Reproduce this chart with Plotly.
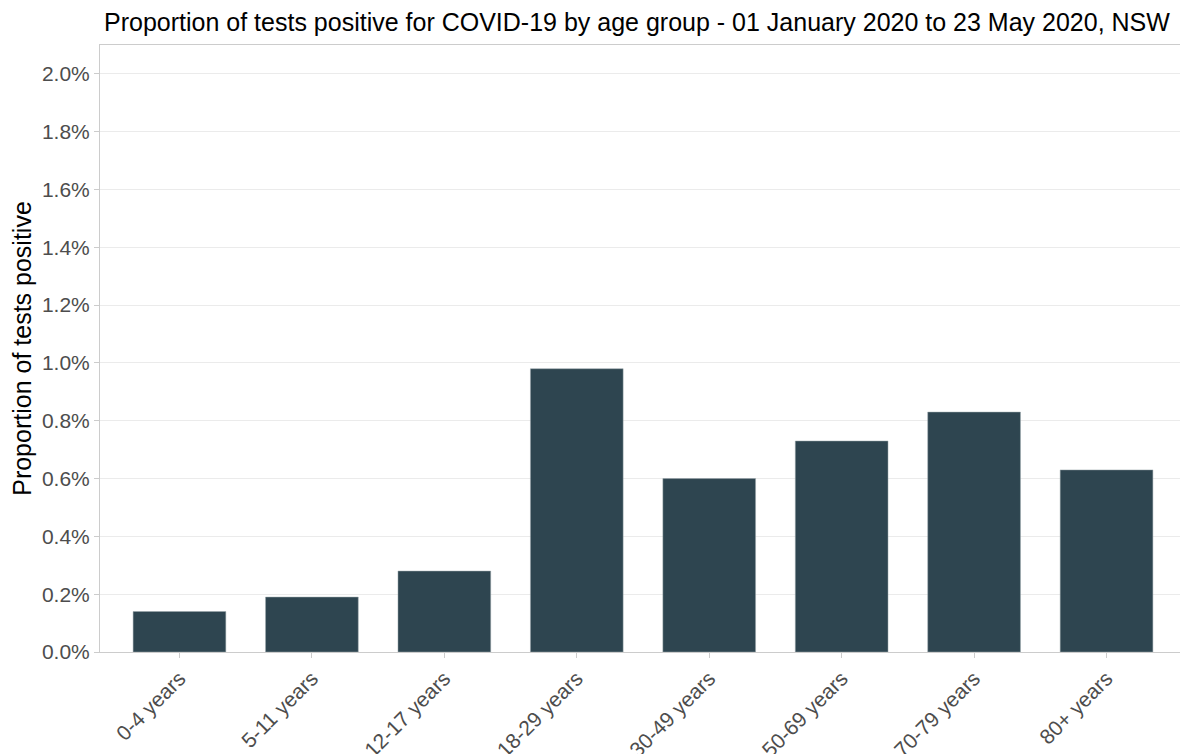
import plotly.graph_objects as go

age_groups = ["0-4 years", "5-11 years", "12-17 years", "18-29 years",
              "30-49 years", "50-69 years", "70-79 years", "80+ years"]
pct_positive = [0.14, 0.19, 0.28, 0.98, 0.60, 0.73, 0.83, 0.63]
y_ticks = [0.0, 0.2, 0.4, 0.6, 0.8, 1.0, 1.2, 1.4, 1.6, 1.8, 2.0]

fig = go.Figure(go.Bar(
    x=age_groups,
    y=pct_positive,
    width=0.7,
    marker=dict(color="#2e4550", line=dict(color="#9aa6ab", width=0.5)),
))

# page body has an 8px margin, so the figure is 8px smaller than the window
fig.update_layout(
    title=dict(
        text="Proportion of tests positive for COVID-19 by age group - 01 January 2020 to 23 May 2020, NSW",
        x=0.533, xanchor="center", y=0.981, yanchor="middle",
        font=dict(size=25, color="#000000"),
    ),
    font=dict(family="Liberation Sans, Arial, sans-serif"),
    plot_bgcolor="white",
    paper_bgcolor="white",
    width=1180, height=746,
    margin=dict(l=92, r=2, t=37, b=102),
    showlegend=False,
)

fig.update_xaxes(
    range=[-0.6, 7.6],
    tickangle=-45,
    ticks="outside", ticklen=5, tickcolor="#cccccc",
    tickfont=dict(size=21, color="#4d4d4d"),
    showline=True, linecolor="#cccccc", linewidth=1, mirror=True,
    showgrid=False,
    automargin=False,
)
fig.update_yaxes(
    range=[0, 2.1],
    tickvals=y_ticks,
    ticktext=[f"{v:.1f}%" for v in y_ticks],
    ticks="outside", ticklen=5, tickcolor="#cccccc",
    tickfont=dict(size=21, color="#4d4d4d"),
    title=dict(text="Proportion of tests positive", font=dict(size=25, color="#000000"), standoff=6),
    showline=True, linecolor="#cccccc", linewidth=1, mirror=True,
    showgrid=True, gridcolor="#ebebeb", gridwidth=1,
    zeroline=False,
    automargin=False,
)

fig.write_html("out.html")
